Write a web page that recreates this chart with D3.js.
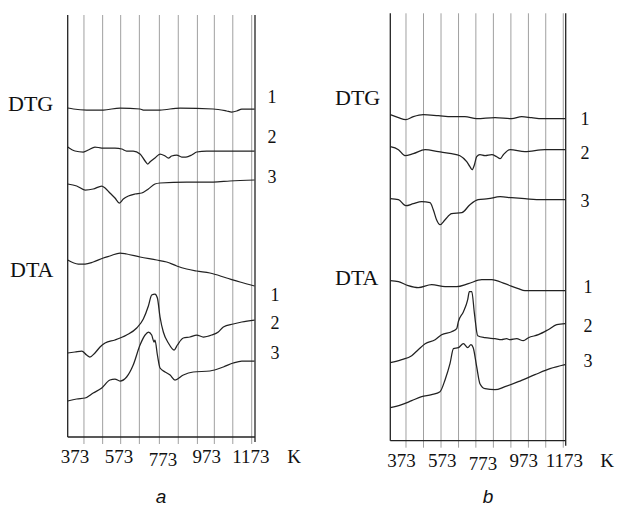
<!DOCTYPE html>
<html>
<head>
<meta charset="utf-8">
<script src="https://cdn.jsdelivr.net/npm/d3@7"></script>
<style>
body { margin: 0; background: #fff; }
svg { display: block; }
text { font-family: "Liberation Serif", "Times New Roman", serif; fill: #111; }
</style>
</head>
<body>
<svg></svg>
<script>
// [temperature K, signal (arb. units, curves stacked)]
var aDTG1 = [[340,329],[366,328],[426,327],[456,327],[502,327],[578,329],[669,328],[684,327],[760,327],[851,329],[1002,328],[1063,326],[1086,325],[1109,326],[1132,328],[1190,328]];
var aDTG2 = [[340,290],[373,286],[411,285],[434,287],[464,290],[495,289],[532,289],[555,289],[586,288],[608,286],[638,286],[669,283],[692,276],[704,273],[714,275],[737,279],[760,283],[783,281],[798,279],[813,281],[836,282],[859,280],[878,280],[904,282],[927,285],[972,286],[1190,286]];
var aDTG3 = [[340,253],[381,251],[419,247],[456,248],[495,251],[510,249],[532,244],[555,239],[575,234],[593,238],[616,241],[646,243],[677,244],[707,248],[737,253],[760,254],[881,255],[1002,255],[1078,256],[1190,257]];
var aDTA1 = [[340,177],[388,173],[419,173],[456,175],[502,179],[532,181],[578,184],[608,183],[669,180],[745,177],[790,175],[836,171],[881,168],[927,166],[987,164],[1063,159],[1124,155],[1190,151]];
var aDTA2 = [[340,84],[373,85],[404,86],[426,82],[441,80],[464,84],[487,90],[510,94],[555,97],[608,102],[654,109],[684,118],[707,131],[722,142],[737,143],[748,139],[760,120],[775,105],[798,94],[824,87],[839,92],[866,99],[896,100],[927,102],[957,100],[995,102],[1025,105],[1048,110],[1093,113],[1132,115],[1190,117]];
var aDTA3 = [[340,36],[381,38],[419,39],[456,44],[495,49],[532,57],[555,58],[578,56],[608,60],[638,72],[669,92],[692,102],[707,105],[722,102],[733,95],[737,97],[748,82],[760,69],[783,65],[806,62],[828,57],[866,62],[911,65],[987,66],[1048,70],[1093,74],[1132,76],[1190,76]];

var bDTG1 = [[318,326],[358,323],[394,321],[431,324],[480,326],[554,325],[619,324],[684,324],[742,322],[832,323],[914,322],[963,324],[1012,323],[1061,322],[1111,322],[1176,322]];
var bDTG2 = [[318,294],[358,291],[390,285],[431,287],[489,291],[554,289],[619,287],[660,285],[693,279],[709,274],[720,271],[731,276],[742,284],[758,286],[783,285],[816,286],[840,284],[857,282],[873,286],[906,291],[979,289],[1077,291],[1176,291]];
var bDTG3 = [[318,242],[358,241],[394,235],[431,237],[472,239],[513,238],[529,231],[545,221],[562,216],[587,221],[619,227],[669,228],[709,236],[749,241],[799,242],[857,244],[914,243],[979,242],[1061,241],[1176,241]];
var bDTA1 = [[318,160],[358,159],[406,155],[455,153],[521,156],[587,154],[644,154],[701,157],[767,161],[816,161],[881,157],[946,152],[979,150],[1176,150]];
var bDTA2 = [[318,78],[374,81],[423,85],[455,91],[489,97],[538,101],[570,106],[619,109],[644,112],[652,119],[677,129],[698,141],[706,149],[718,149],[731,127],[747,105],[783,103],[832,102],[864,101],[889,102],[906,101],[938,102],[971,100],[996,103],[1045,106],[1093,111],[1135,116],[1176,117]];
var bDTA3 = [[318,33],[374,36],[423,40],[472,44],[521,46],[562,49],[587,61],[611,77],[628,92],[652,93],[677,97],[698,93],[714,96],[725,93],[742,74],[758,57],[783,52],[832,51],[881,54],[946,59],[1028,66],[1102,72],[1176,76]];

var tickTemps = [373, 573, 773, 973, 1173];
var gridA = [414, 499, 581, 666, 757, 843, 930, 1007, 1091, 1177];
var gridB = [395, 481, 567, 653, 738, 824, 910, 996, 1081, 1167];
var curveNames = ["1", "2", "3"];

var screen = {width: 617, height: 506};

var panels = [
    {name: "a", left: 67.7, right: 255, top: 15, bottom: 437, tDomain: [340, 1192], grid: gridA,
     dtg: [aDTG1, aDTG2, aDTG3], dta: [aDTA1, aDTA2, aDTA3],
     dtgText: {x: 8, y: 110.7}, dtaText: {x: 10, y: 276.7},
     numDtgX: 272, numDtaX: 275, numDtg: [333.7, 293.7, 253.7], numDta: [136.3, 107.7, 78],
     kX: 294, capX: 161},
    {name: "b", left: 390.3, right: 565.7, top: 13.3, bottom: 440.7, tDomain: [318, 1179], grid: gridB,
     dtg: [bDTG1, bDTG2, bDTG3], dta: [bDTA1, bDTA2, bDTA3],
     dtgText: {x: 335, y: 105}, dtaText: {x: 335, y: 285},
     numDtgX: 585, numDtaX: 588, numDtg: [315.7, 281.4, 234], numDta: [147.4, 109, 73.4],
     kX: 607, capX: 488}
];

var svg = d3.select("svg")
    .attr("width", screen.width)
    .attr("height", screen.height);

var drawPanel = function(p)
{
    var g = svg.append("g").attr("id", "panel-" + p.name);

    var xScale = d3.scaleLinear()
        .domain(p.tDomain)
        .range([p.left, p.right]);

    var yScale = d3.scaleLinear()
        .domain([0, p.bottom - p.top])
        .range([p.bottom, p.top]);

    // vertical grid lines, running a little below the axis as ticks
    g.selectAll(".grid")
        .data(p.grid)
        .enter()
        .append("line")
        .attr("class", "grid")
        .attr("x1", function(t){return xScale(t)})
        .attr("x2", function(t){return xScale(t)})
        .attr("y1", p.top)
        .attr("y2", p.bottom + 7)
        .attr("stroke", "#a0a0a0")
        .attr("stroke-width", 1);

    // frame: left, right and bottom
    g.append("line")
        .attr("x1", p.left).attr("x2", p.left)
        .attr("y1", p.top).attr("y2", p.bottom)
        .attr("stroke", "#222").attr("stroke-width", 1.3);
    g.append("line")
        .attr("x1", p.right).attr("x2", p.right)
        .attr("y1", p.top).attr("y2", p.bottom + 5)
        .attr("stroke", "#222").attr("stroke-width", 1.3);
    g.append("line")
        .attr("x1", p.left).attr("x2", p.right)
        .attr("y1", p.bottom).attr("y2", p.bottom)
        .attr("stroke", "#222").attr("stroke-width", 1.3);

    var lineGenerator = d3.line()
        .x(function(d){return xScale(d[0])})
        .y(function(d){return yScale(d[1])})
        .curve(d3.curveMonotoneX);

    g.selectAll(".curve")
        .data(p.dtg.concat(p.dta))
        .enter()
        .append("path")
        .attr("class", "curve")
        .attr("d", lineGenerator)
        .attr("fill", "none")
        .attr("stroke", "#222")
        .attr("stroke-width", 1.25);

    g.append("text")
        .attr("x", p.dtgText.x).attr("y", p.dtgText.y)
        .attr("font-size", 22)
        .text("DTG");
    g.append("text")
        .attr("x", p.dtaText.x).attr("y", p.dtaText.y)
        .attr("font-size", 22)
        .text("DTA");

    g.selectAll(".numDtg")
        .data(curveNames)
        .enter()
        .append("text")
        .attr("class", "numDtg")
        .attr("x", p.numDtgX)
        .attr("y", function(d, i){return yScale(p.numDtg[i])})
        .attr("text-anchor", "middle")
        .attr("font-size", 18)
        .text(function(d){return d});

    g.selectAll(".numDta")
        .data(curveNames)
        .enter()
        .append("text")
        .attr("class", "numDta")
        .attr("x", p.numDtaX)
        .attr("y", function(d, i){return yScale(p.numDta[i])})
        .attr("text-anchor", "middle")
        .attr("font-size", 18)
        .text(function(d){return d});

    g.selectAll(".tick")
        .data(tickTemps)
        .enter()
        .append("text")
        .attr("class", "tick")
        .attr("x", function(t){return xScale(t)})
        .attr("y", function(t){return p.bottom + (t == 773 ? 29 : 26)})
        .attr("text-anchor", "middle")
        .attr("font-size", 19)
        .text(function(t){return t});

    g.append("text")
        .attr("x", p.kX).attr("y", p.bottom + 26)
        .attr("text-anchor", "middle")
        .attr("font-size", 19)
        .text("K");

    g.append("text")
        .attr("x", p.capX).attr("y", 503)
        .attr("text-anchor", "middle")
        .attr("font-size", 19)
        .attr("font-style", "italic")
        .style("font-family", "'Liberation Sans', Arial, sans-serif")
        .text(p.name);
}

panels.forEach(drawPanel);
</script>
</body>
</html>
